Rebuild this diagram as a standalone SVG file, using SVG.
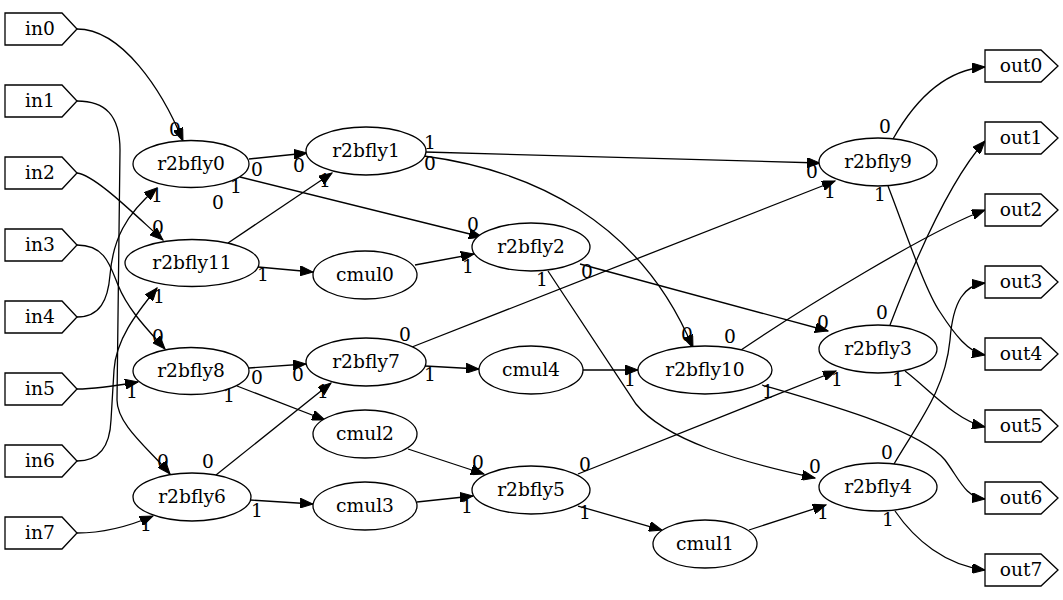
<svg xmlns="http://www.w3.org/2000/svg" width="1063" height="600" viewBox="0 0 1063 600">
<defs>
<marker id="ah" markerWidth="14" markerHeight="10" refX="13" refY="5" orient="auto" markerUnits="userSpaceOnUse">
<path d="M0,0 L13,5 L0,10 z" fill="#000" stroke="#000" stroke-width="1"/>
</marker>
<style>
.n{fill:#fff;stroke:#000;stroke-width:1.3}
.t{font-family:"DejaVu Serif","Liberation Serif",serif;font-size:18.67px;fill:#000;text-anchor:middle}
.e{fill:none;stroke:#000;stroke-width:1.3;marker-end:url(#ah)}
.l{font-family:"DejaVu Serif","Liberation Serif",serif;font-size:18.67px;fill:#000;text-anchor:middle}
</style>
</defs>
<rect width="1063" height="600" fill="#fff"/>
<g id="connectors">
<path class="e" d="M77,29 C122,29 162,90 183,141"/>
<path class="e" d="M77,101 C105,101 120,115 120,150 L117,400 C117,425 150,450 170,474"/>
<path class="e" d="M77,173 C95,175 135,215 163,240"/>
<path class="e" d="M77,245 C105,245 110,265 118,285 C128,310 148,330 165,349"/>
<path class="e" d="M77,317 C100,317 108,300 110,275 C113,240 125,215 157,188"/>
<path class="e" d="M77,389 C95,389 115,386 138,382"/>
<path class="e" d="M77,461 C100,461 110,445 111,420 L114,370 C116,340 135,315 157,288"/>
<path class="e" d="M77,533 C100,533 125,528 153,516"/>
<path class="e" d="M249,159 L307,153"/>
<path class="e" d="M240,177 L482,237"/>
<path class="e" d="M228,243 L332,173"/>
<path class="e" d="M258,267 L313,272"/>
<path class="e" d="M415,265 L474,254"/>
<path class="e" d="M249,368 L306,364"/>
<path class="e" d="M237,386 L325,420"/>
<path class="e" d="M216,475 L331,383"/>
<path class="e" d="M250,500 L313,504"/>
<path class="e" d="M408,449 L484,474"/>
<path class="e" d="M417,502 L473,496"/>
<path class="e" d="M425,152 L820,163"/>
<path class="e" d="M424,156 C530,170 640,220 693,348"/>
<path class="e" d="M412,347 L835,181"/>
<path class="e" d="M425,366 L479,369"/>
<path class="e" d="M583,370 L638,370"/>
<path class="e" d="M580,264 L828,331"/>
<path class="e" d="M548,271 L636,404 C665,440 740,462 815,478"/>
<path class="e" d="M578,474 L836,371"/>
<path class="e" d="M578,506 L662,530"/>
<path class="e" d="M749,530 L826,505"/>
<path class="e" d="M893,139 C915,100 945,70 985,67"/>
<path class="e" d="M888,186 C905,230 925,290 940,312 C955,335 968,352 985,355"/>
<path class="e" d="M741,350 C800,310 930,230 985,210"/>
<path class="e" d="M762,385 C830,405 920,430 945,460 C960,480 965,497 985,499"/>
<path class="e" d="M890,325 C915,260 950,180 985,141"/>
<path class="e" d="M905,371 C930,390 955,420 985,427"/>
<path class="e" d="M894,464 C920,420 945,390 950,340 C953,300 965,285 985,283"/>
<path class="e" d="M895,511 C915,540 945,565 985,570"/>
<g id="port-labels">
<text class="l" x="175" y="136">0</text>
<text class="l" x="163" y="468">0</text>
<text class="l" x="158" y="234">0</text>
<text class="l" x="158" y="343">0</text>
<text class="l" x="157" y="202">1</text>
<text class="l" x="132" y="398">1</text>
<text class="l" x="159" y="303">1</text>
<text class="l" x="146" y="531">1</text>
<text class="l" x="257" y="176">0</text>
<text class="l" x="299" y="172">0</text>
<text class="l" x="236" y="193">1</text>
<text class="l" x="473" y="231">0</text>
<text class="l" x="218" y="209">0</text>
<text class="l" x="325" y="187">1</text>
<text class="l" x="263" y="281">1</text>
<text class="l" x="468" y="273">1</text>
<text class="l" x="257" y="384">0</text>
<text class="l" x="298" y="381">0</text>
<text class="l" x="229" y="402">1</text>
<text class="l" x="208" y="468">0</text>
<text class="l" x="323" y="398">1</text>
<text class="l" x="257" y="517">1</text>
<text class="l" x="478" y="469">0</text>
<text class="l" x="467" y="513">1</text>
<text class="l" x="430" y="149">1</text>
<text class="l" x="812" y="178">0</text>
<text class="l" x="430" y="170">0</text>
<text class="l" x="687" y="341">0</text>
<text class="l" x="405" y="341">0</text>
<text class="l" x="830" y="198">1</text>
<text class="l" x="430" y="381">1</text>
<text class="l" x="630" y="386">1</text>
<text class="l" x="587" y="278">0</text>
<text class="l" x="823" y="329">0</text>
<text class="l" x="542" y="286">1</text>
<text class="l" x="815" y="473">0</text>
<text class="l" x="585" y="471">0</text>
<text class="l" x="837" y="386">1</text>
<text class="l" x="585" y="519">1</text>
<text class="l" x="823" y="519">1</text>
<text class="l" x="885" y="133">0</text>
<text class="l" x="880" y="201">1</text>
<text class="l" x="730" y="343">0</text>
<text class="l" x="768" y="398">1</text>
<text class="l" x="882" y="319">0</text>
<text class="l" x="898" y="386">1</text>
<text class="l" x="887" y="459">0</text>
<text class="l" x="888" y="526">1</text>
</g>
</g>
<g id="in0"><polygon class="n" points="5,13 62,13 77,29 62,45 5,45"/><text class="t" x="40" y="35">in0</text></g>
<g id="in1"><polygon class="n" points="5,85 62,85 77,101 62,117 5,117"/><text class="t" x="40" y="107">in1</text></g>
<g id="in2"><polygon class="n" points="5,157 62,157 77,173 62,189 5,189"/><text class="t" x="40" y="179">in2</text></g>
<g id="in3"><polygon class="n" points="5,229 62,229 77,245 62,261 5,261"/><text class="t" x="40" y="251">in3</text></g>
<g id="in4"><polygon class="n" points="5,301 62,301 77,317 62,333 5,333"/><text class="t" x="40" y="323">in4</text></g>
<g id="in5"><polygon class="n" points="5,373 62,373 77,389 62,405 5,405"/><text class="t" x="40" y="395">in5</text></g>
<g id="in6"><polygon class="n" points="5,445 62,445 77,461 62,477 5,477"/><text class="t" x="40" y="467">in6</text></g>
<g id="in7"><polygon class="n" points="5,517 62,517 77,533 62,549 5,549"/><text class="t" x="40" y="539">in7</text></g>
<g id="out0"><polygon class="n" points="985,50 1041,50 1058,66 1041,82 985,82"/><text class="t" x="1021" y="72">out0</text></g>
<g id="out1"><polygon class="n" points="985,122 1041,122 1058,138 1041,154 985,154"/><text class="t" x="1021" y="144">out1</text></g>
<g id="out2"><polygon class="n" points="985,194 1041,194 1058,210 1041,226 985,226"/><text class="t" x="1021" y="216">out2</text></g>
<g id="out3"><polygon class="n" points="985,266 1041,266 1058,282 1041,298 985,298"/><text class="t" x="1021" y="288">out3</text></g>
<g id="out4"><polygon class="n" points="985,338 1041,338 1058,354 1041,370 985,370"/><text class="t" x="1021" y="360">out4</text></g>
<g id="out5"><polygon class="n" points="985,410 1041,410 1058,426 1041,442 985,442"/><text class="t" x="1021" y="432">out5</text></g>
<g id="out6"><polygon class="n" points="985,482 1041,482 1058,498 1041,514 985,514"/><text class="t" x="1021" y="504">out6</text></g>
<g id="out7"><polygon class="n" points="985,554 1041,554 1058,570 1041,586 985,586"/><text class="t" x="1021" y="576">out7</text></g>
<g id="r2bfly0"><ellipse class="n" cx="191" cy="164" rx="58" ry="23.5"/><text class="t" x="191" y="170">r2bfly0</text></g>
<g id="r2bfly11"><ellipse class="n" cx="192" cy="263" rx="67" ry="23.5"/><text class="t" x="192" y="269">r2bfly11</text></g>
<g id="r2bfly8"><ellipse class="n" cx="191" cy="371" rx="58" ry="23.5"/><text class="t" x="191" y="377">r2bfly8</text></g>
<g id="r2bfly6"><ellipse class="n" cx="192" cy="497" rx="59" ry="24"/><text class="t" x="192" y="503">r2bfly6</text></g>
<g id="r2bfly1"><ellipse class="n" cx="366" cy="151" rx="60" ry="24"/><text class="t" x="366" y="157">r2bfly1</text></g>
<g id="cmul0"><ellipse class="n" cx="365" cy="275" rx="52" ry="24"/><text class="t" x="365" y="281">cmul0</text></g>
<g id="r2bfly7"><ellipse class="n" cx="366" cy="362" rx="60" ry="24"/><text class="t" x="366" y="368">r2bfly7</text></g>
<g id="cmul2"><ellipse class="n" cx="365" cy="434" rx="52" ry="24"/><text class="t" x="365" y="440">cmul2</text></g>
<g id="cmul3"><ellipse class="n" cx="365" cy="506" rx="52" ry="24"/><text class="t" x="365" y="512">cmul3</text></g>
<g id="r2bfly2"><ellipse class="n" cx="531" cy="247" rx="59" ry="24"/><text class="t" x="531" y="253">r2bfly2</text></g>
<g id="cmul4"><ellipse class="n" cx="531" cy="370" rx="52" ry="24"/><text class="t" x="531" y="376">cmul4</text></g>
<g id="r2bfly5"><ellipse class="n" cx="531" cy="490" rx="59" ry="24"/><text class="t" x="531" y="496">r2bfly5</text></g>
<g id="r2bfly10"><ellipse class="n" cx="705" cy="370" rx="67" ry="24"/><text class="t" x="705" y="376">r2bfly10</text></g>
<g id="cmul1"><ellipse class="n" cx="705" cy="544" rx="52" ry="24"/><text class="t" x="705" y="550">cmul1</text></g>
<g id="r2bfly9"><ellipse class="n" cx="878" cy="162" rx="59" ry="24"/><text class="t" x="878" y="168">r2bfly9</text></g>
<g id="r2bfly3"><ellipse class="n" cx="878" cy="349" rx="59" ry="24"/><text class="t" x="878" y="355">r2bfly3</text></g>
<g id="r2bfly4"><ellipse class="n" cx="878" cy="487" rx="59" ry="24"/><text class="t" x="878" y="493">r2bfly4</text></g>
</svg>
